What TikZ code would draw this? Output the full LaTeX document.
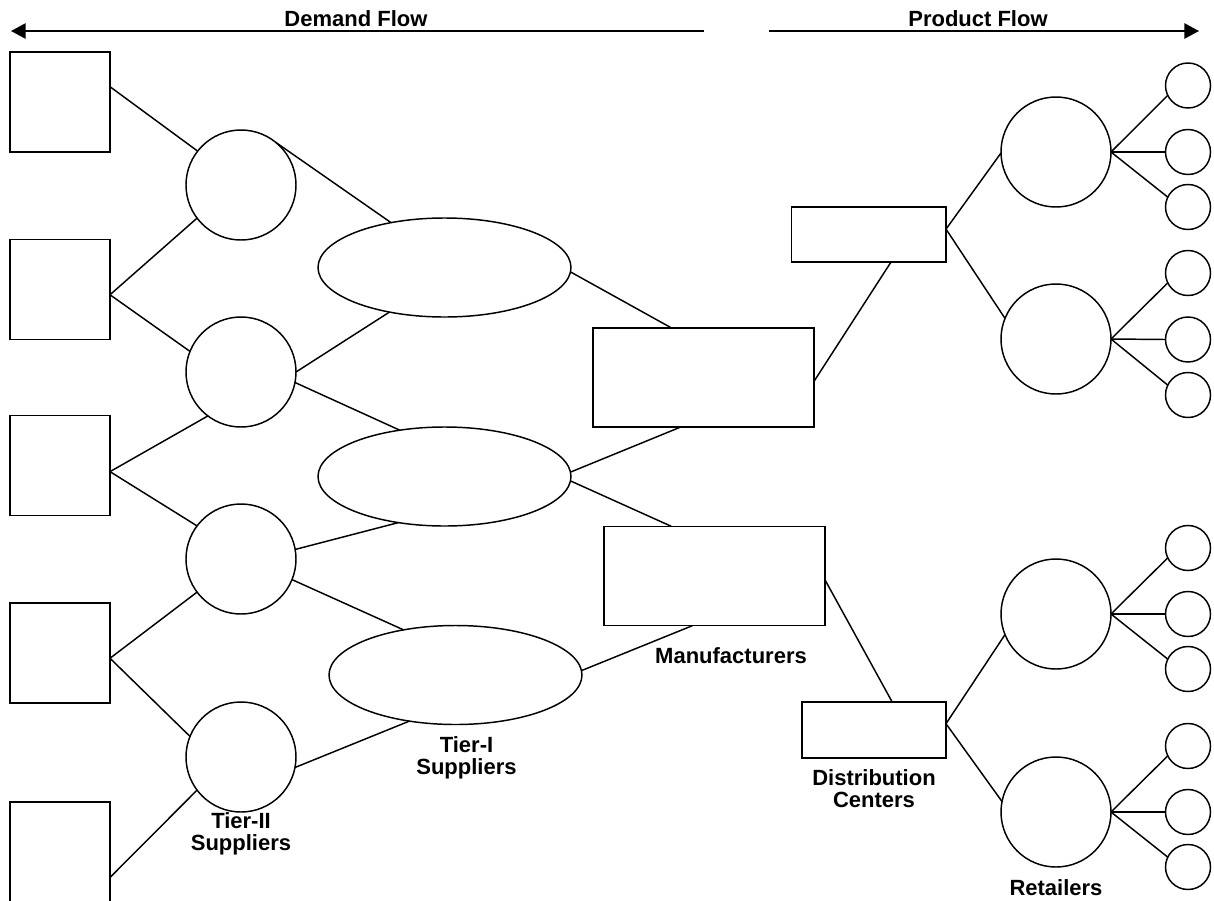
\documentclass[tikz,border=0pt]{standalone}
\usepackage{fontspec}
\setmainfont{Liberation Sans}
\usetikzlibrary{shapes.geometric,arrows.meta}

\begin{document}
\begin{tikzpicture}[
  x=0.75pt, y=-0.75pt,
  line width=1.1pt,
  every node/.style={inner sep=0pt, outer sep=0pt},
  sqbox/.style={draw, rectangle, minimum width=75pt, minimum height=75pt},
  bigcirc/.style={draw, circle, minimum size=82.5pt},
  smallcirc/.style={draw, circle, minimum size=33.75pt},
  tierone/.style={draw, ellipse, minimum width=189.75pt, minimum height=74.25pt},
  mfgbox/.style={draw, rectangle, minimum width=165.75pt, minimum height=74.5pt},
  lbl/.style={font=\bfseries\fontsize{16.5}{16.5}\selectfont, align=center, anchor=north},
  flow/.style={-{Triangle[length=11pt,width=11.5pt]}}
]
\useasboundingbox (0,0) rectangle (1214,900);

% flow arrows
\coordinate (dfA) at (704,31);
\coordinate (dfB) at (11,31);
\coordinate (pfA) at (769,31);
\coordinate (pfB) at (1199,31);
\draw[flow] (dfA) -- (dfB);
\draw[flow] (pfA) -- (pfB);
\node[lbl] (dflbl) at (356,11) {Demand Flow};
\node[lbl] (pflbl) at (978,11) {Product Flow};

% tier-II suppliers' sources
\node[sqbox] (sq1) at (60,102) {};
\node[sqbox] (sq2) at (60,289.5) {};
\node[sqbox] (sq3) at (60,465.5) {};
\node[sqbox] (sq4) at (60,653) {};
\node[sqbox] (sq5) at (60,852) {};

% tier-II suppliers
\node[bigcirc] (c1) at (241,185) {};
\node[bigcirc] (c2) at (241,372) {};
\node[bigcirc] (c3) at (241,559) {};
\node[bigcirc] (c4) at (241,757) {};

% tier-I suppliers
\node[tierone] (e1) at (444.5,267.5) {};
\node[tierone] (e2) at (444.5,476.5) {};
\node[tierone] (e3) at (455.5,675) {};

% manufacturers
\node[mfgbox] (m1) at (703.5,377.5) {};
\node[mfgbox] (m2) at (714.5,576) {};

% distribution centers
\node[draw, minimum width=115.9pt, minimum height=41.25pt] (dc1) at (868.75,234.5) {};
\node[draw, minimum width=108pt, minimum height=42pt] (dc2) at (874,730) {};

% retailers
\node[bigcirc] (b1) at (1056,152) {};
\node[bigcirc] (b2) at (1056,339) {};
\node[bigcirc] (b3) at (1056,614) {};
\node[bigcirc] (b4) at (1056,812) {};

\node[smallcirc] (s1) at (1188,85.5) {};
\node[smallcirc] (s2) at (1188,152) {};
\node[smallcirc] (s3) at (1188,207) {};
\node[smallcirc] (s4) at (1188,273) {};
\node[smallcirc] (s5) at (1188,339.5) {};
\node[smallcirc] (s6) at (1188,395) {};
\node[smallcirc] (s7) at (1188,548) {};
\node[smallcirc] (s8) at (1188,614) {};
\node[smallcirc] (s9) at (1188,669) {};
\node[smallcirc] (s10) at (1188,746) {};
\node[smallcirc] (s11) at (1188,812) {};
\node[smallcirc] (s12) at (1188,867) {};

% labels
\node[lbl] (l2) at (241,813) {Tier-II\\Suppliers};
\node[lbl] (l1) at (466.5,737) {Tier-I\\Suppliers};
\node[lbl] (lm) at (731,648) {Manufacturers};
\node[lbl] (ld) at (874,770) {Distribution\\Centers};
\node[lbl] (lr) at (1056,880) {Retailers};

% sources to tier-II
\draw (sq1.17) -- (c1.142.5);
\draw (sq2.-6) -- (c1.217.4);
\draw (sq2.-6) -- (c2.158.6);
\draw (sq3.-7) -- (c2.233.2);
\draw (sq3.-7) -- (c3.143.4);
\draw (sq4.-6) -- (c3.217.1);
\draw (sq4.-6) -- (c4.158.6);
\draw (sq5.-27.7) -- (c4.217.1);

% tier-II to tier-I
\draw (c1.51.4) -- (e1.140.7);
\draw (c2.0) -- (e1.219.9);
\draw (c2.-11.5) -- (e2.134.8);
\draw (c3.10.9) -- (e2.225.4);
\draw (c3.-22.2) -- (e3.139.9);
\draw (c4.-11.7) -- (e3.225.5);

% tier-I to manufacturers
\draw (e1.-2.9) -- (m1.123.3);
\draw (e2.2.9) -- (m1.245.4);
\draw (e2.-2.8) -- (m2.131);
\draw (e3.2.6) -- (m2.246.8);

% manufacturers to distribution centers
\draw (m1.-2.7) -- (dc1.309.1);
\draw (m2.-2.9) -- (dc2.57.9);

% distribution centers to retailers
\draw (dc1.4.6) -- (b1.181);
\draw (dc1.4.6) -- (b2.158.2);
\draw (dc2.5.3) -- (b3.202);
\draw (dc2.5.3) -- (b4.169.2);

% retailers to outlets
\foreach \b/\u/\v/\w in {b1/s1/s2/s3, b2/s4/s5/s6, b3/s7/s8/s9, b4/s10/s11/s12}{
  \draw (\b.0) -- (\u.206);
  \draw (\b.0) -- (\v.180);
  \draw (\b.0) -- (\w.154.6);
}
\end{tikzpicture}
\end{document}
